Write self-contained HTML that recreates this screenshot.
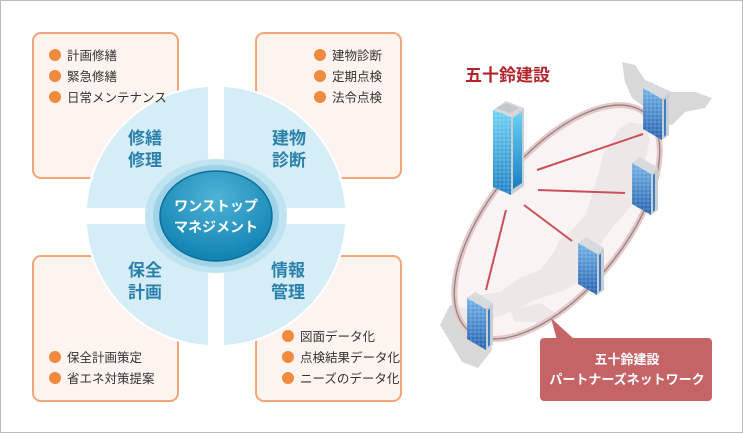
<!DOCTYPE html>
<html><head><meta charset="utf-8"><style>
html,body{margin:0;padding:0;background:#fff}
svg{display:block}
text{font-family:"Liberation Sans","Noto Sans CJK JP",sans-serif}
</style></head><body>
<svg width="743" height="433" viewBox="0 0 743 433" xmlns="http://www.w3.org/2000/svg">
<defs>
<radialGradient id="cg" cx="50%" cy="30%" r="70%"><stop offset="0" stop-color="#4fb3d6"/><stop offset="1" stop-color="#0f82b2"/></radialGradient>
<linearGradient id="bf" x1="0" y1="0" x2="0" y2="1"><stop offset="0" stop-color="#6fb0e6"/><stop offset="1" stop-color="#1f5fae"/></linearGradient>
<linearGradient id="tf" x1="0" y1="0" x2="0" y2="1"><stop offset="0" stop-color="#6cd0f2"/><stop offset="1" stop-color="#1a7fc4"/></linearGradient>
<pattern id="win" width="4" height="4" patternUnits="userSpaceOnUse"><rect width="4" height="4" fill="none" stroke="#ffffff" stroke-opacity="0.35" stroke-width="0.6"/></pattern>
<g id="sb">
<polygon points="0,6 8,0 26,11 19,17" fill="#d8dbde"/>
<polygon points="0,6 19,17 19,58 0,47" fill="url(#bf)"/>
<polygon points="0,6 19,17 19,58 0,47" fill="url(#win)"/>
<polygon points="19,17 26,11 26,53 19,58" fill="#c9ced3"/>
<polygon points="21,18 23,16.5 23,53 21,55" fill="#3a7cc6"/>
</g>
</defs>
<rect x="0.5" y="0.5" width="742" height="432" fill="#fff" stroke="#bbb"/>
<g fill="#fdf4ef" stroke="#f2a677" stroke-width="2">
<rect x="33" y="33" width="145" height="145" rx="8"/>
<rect x="256" y="33" width="145" height="145" rx="8"/>
<rect x="33" y="256" width="145" height="145" rx="8"/>
<rect x="256" y="256" width="145" height="145" rx="8"/>
</g>
<g fill="#d5edf7" stroke="#fff" stroke-width="2">
<path d="M209,209 L209,86 A130,130 0 0 0 86,209 Z"/>
<path d="M223,209 L223,86 A130,130 0 0 1 346,209 Z"/>
<path d="M209,223 L209,346 A130,130 0 0 1 86,223 Z"/>
<path d="M223,223 L223,346 A130,130 0 0 0 346,223 Z"/>
</g>
<ellipse cx="216" cy="216" rx="71" ry="57" fill="#bfe3f0"/>
<ellipse cx="216" cy="216" rx="63" ry="51" fill="#9fd3e7"/>
<ellipse cx="216" cy="216" rx="56" ry="45" fill="url(#cg)" stroke="#0d6f98" stroke-width="1.5"/>
<g fill="#fff" font-weight="bold" font-size="14" text-anchor="middle">
<text x="216" y="211">ワンストップ</text>
<text x="216" y="232">マネジメント</text>
</g>
<g fill="#2a80aa" font-weight="bold" font-size="17" text-anchor="middle">
<text x="145" y="144">修繕</text><text x="145" y="166">修理</text>
<text x="289" y="144">建物</text><text x="289" y="166">診断</text>
<text x="145" y="276">保全</text><text x="145" y="298">計画</text>
<text x="288" y="276">情報</text><text x="288" y="298">管理</text>
</g>
<g fill="#ef8a3f">
<circle cx="55" cy="55" r="6"/><circle cx="55" cy="76" r="6"/><circle cx="55" cy="97" r="6"/>
<circle cx="320" cy="55" r="6"/><circle cx="320" cy="76" r="6"/><circle cx="320" cy="97" r="6"/>
<circle cx="55" cy="357" r="6"/><circle cx="55" cy="378" r="6"/>
<circle cx="288" cy="336" r="6"/><circle cx="288" cy="357" r="6"/><circle cx="288" cy="378" r="6"/>
</g>
<g fill="#333" font-size="12.5">
<text x="67" y="60">計画修繕</text><text x="67" y="81">緊急修繕</text><text x="67" y="102">日常メンテナンス</text>
<text x="332" y="60">建物診断</text><text x="332" y="81">定期点検</text><text x="332" y="102">法令点検</text>
<text x="67" y="362">保全計画策定</text><text x="67" y="383">省エネ対策提案</text>
<text x="300" y="341">図面データ化</text><text x="300" y="362">点検結果データ化</text><text x="300" y="383">ニーズのデータ化</text>
</g>
<!-- map -->
<g fill="#d8d8d8">
<path d="M622,62 L635,65 L645,80 L672,92 L695,92 L712,98 L705,108 L685,112 L672,125 L660,122 L648,110 L632,98 L625,82 Z"/>
<path d="M630,122 L645,125 L650,140 L645,160 L650,175 L640,195 L628,210 L612,228 L600,245 L598,262 L585,280 L560,292 L535,300 L515,310 L495,318 L472,320 L468,305 L482,295 L500,292 L520,278 L540,270 L552,255 L560,240 L572,230 L585,215 L592,195 L598,175 L603,155 L612,140 L620,128 Z"/>
<path d="M450,305 L472,310 L488,325 L492,350 L478,368 L462,362 L452,345 L440,325 Z"/>
<path d="M510,310 L540,303 L555,312 L540,322 L515,322 Z"/>
</g>
<ellipse cx="557" cy="222" rx="140" ry="68" transform="rotate(-51 557 222)" fill="#f8eeee" fill-opacity="0.7" stroke="#e8c6c6" stroke-width="6"/>
<ellipse cx="557" cy="222" rx="140" ry="68" transform="rotate(-51 557 222)" fill="none" stroke="#888" stroke-width="1.3"/>
<g stroke="#c9505a" stroke-width="2">
<line x1="537" y1="170" x2="643" y2="134"/>
<line x1="538" y1="190" x2="625" y2="193"/>
<line x1="524" y1="205" x2="572" y2="241"/>
<line x1="506" y1="210" x2="486" y2="290"/>
</g>
<text x="465" y="81" fill="#b1252b" font-weight="bold" font-size="17">五十鈴建設</text>
<!-- tower -->
<g>
<polygon points="493,110 506,101 524,108 511,117" fill="#d5d9dd"/>
<polygon points="496,108 506,103 519,108 510,113" fill="#c2c7cc"/>
<polygon points="493,110 511,117 511,195 493,187" fill="url(#tf)"/>
<polygon points="493,110 511,117 511,195 493,187" fill="url(#win)"/>
<polygon points="511,117 524,108 524,186 511,195" fill="#c8cdd2"/>
<polygon points="513,118 522,112 522,183 513,189" fill="url(#tf)"/>
</g>
<use href="#sb" transform="translate(643,82)"/>
<use href="#sb" transform="translate(632,157)"/>
<use href="#sb" transform="translate(578,237)"/>
<use href="#sb" transform="translate(467,292)"/>
<polygon points="551,318 557,340 575,340" fill="#c46467"/>
<rect x="540" y="338" width="172" height="63" rx="4" fill="#c46467"/>
<g fill="#fff" font-size="13" text-anchor="middle" font-weight="bold">
<text x="627" y="364">五十鈴建設</text>
<text x="627" y="384">パートナーズネットワーク</text>
</g>
</svg>
</body></html>
